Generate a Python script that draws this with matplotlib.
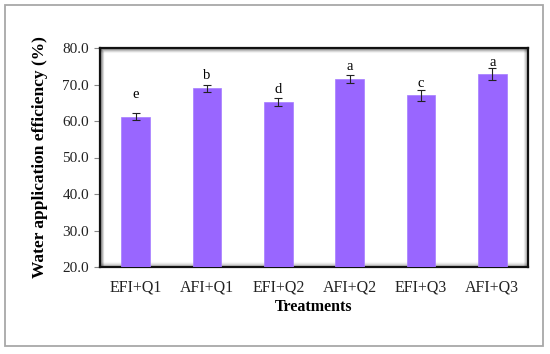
import matplotlib
matplotlib.use("Agg")
import matplotlib.pyplot as plt
from matplotlib.patches import Rectangle

treatments = ["EFI+Q1", "AFI+Q1", "EFI+Q2", "AFI+Q2", "EFI+Q3", "AFI+Q3"]
efficiency = [61.2, 69.0, 65.1, 71.5, 67.0, 72.8]
errors = [0.95, 1.0, 1.1, 1.2, 1.5, 1.6]
letters = ["e", "b", "d", "a", "c", "a"]
letter_y = [67.2, 72.4, 68.6, 75.0, 70.4, 76.1]
yticks = [20.0, 30.0, 40.0, 50.0, 60.0, 70.0, 80.0]

plt.rcParams['font.family'] = ['Liberation Serif', 'DejaVu Serif']

fig = plt.figure(figsize=(5.5, 3.54), dpi=100)
W, H = 550, 354
ax = fig.add_axes([100 / W, 1 - 267 / H, 428 / W, 219 / H])

# outer frame
fig.patches.append(Rectangle((5 / W, 1 - 346 / H), 538 / W, 341 / H,
                             transform=fig.transFigure, fill=False,
                             edgecolor='#a8a8a8', linewidth=1.3))

x = list(range(len(treatments)))
ax.bar(x, efficiency, width=0.4, bottom=0, color='#9966ff', edgecolor='#a57cff',
       linewidth=0.5, zorder=3)
ax.errorbar(x, efficiency, yerr=errors, fmt='none', ecolor='#222222',
            elinewidth=0.8, capsize=3, capthick=0.8, zorder=4)
for xi, lab, ly in zip(x, letters, letter_y):
    ax.text(xi, ly, lab, ha='center', va='center', fontsize=10.5, zorder=5)

ax.set_xlim(-0.5, len(treatments) - 0.5)
ax.set_ylim(20, 80)
ax.set_yticks(yticks)
ax.set_yticklabels([f"{v:.1f}" for v in yticks], fontsize=11, color='#222222')
ax.set_xticks(x)
ax.set_xticklabels(treatments, fontsize=11.5, color='#222222')
ax.tick_params(axis='x', length=0, pad=9)
ax.tick_params(axis='y', direction='out', length=4, color='#888888', pad=4)

# inner shadow effect
for i, a in enumerate([0.25, 0.16, 0.09, 0.04]):
    off = 0.004 * (i + 1)
    ax.plot([off * 0.5, off * 0.5], [0, 1 - off], transform=ax.transAxes,
            color='black', alpha=a, lw=1.6, zorder=2, solid_capstyle='butt')
    ax.plot([0, 1], [1 - off, 1 - off], transform=ax.transAxes,
            color='black', alpha=a, lw=1.6, zorder=2, solid_capstyle='butt')
    ax.plot([1 - off * 0.5, 1 - off * 0.5], [0, 1], transform=ax.transAxes,
            color='black', alpha=a * 0.6, lw=1.6, zorder=2, solid_capstyle='butt')
    ax.plot([0, 1], [off, off], transform=ax.transAxes,
            color='black', alpha=a * 0.6, lw=1.6, zorder=2, solid_capstyle='butt')

for s in ax.spines.values():
    s.set_linewidth(1.6)
    s.set_color('#111111')

ax.set_xlabel("Treatments", fontsize=11.5, fontweight='bold')
ax.xaxis.set_label_coords(0.5, -(307 - 267) / 219)
ax.xaxis.label.set_va('center')
ax.set_ylabel("Water application efficiency (%)", fontsize=12.5, fontweight='bold')
ax.yaxis.set_label_coords(-(100 - 40) / 428, 0.5)
ax.yaxis.label.set_va('center')

fig.savefig("out.png", dpi=100)
